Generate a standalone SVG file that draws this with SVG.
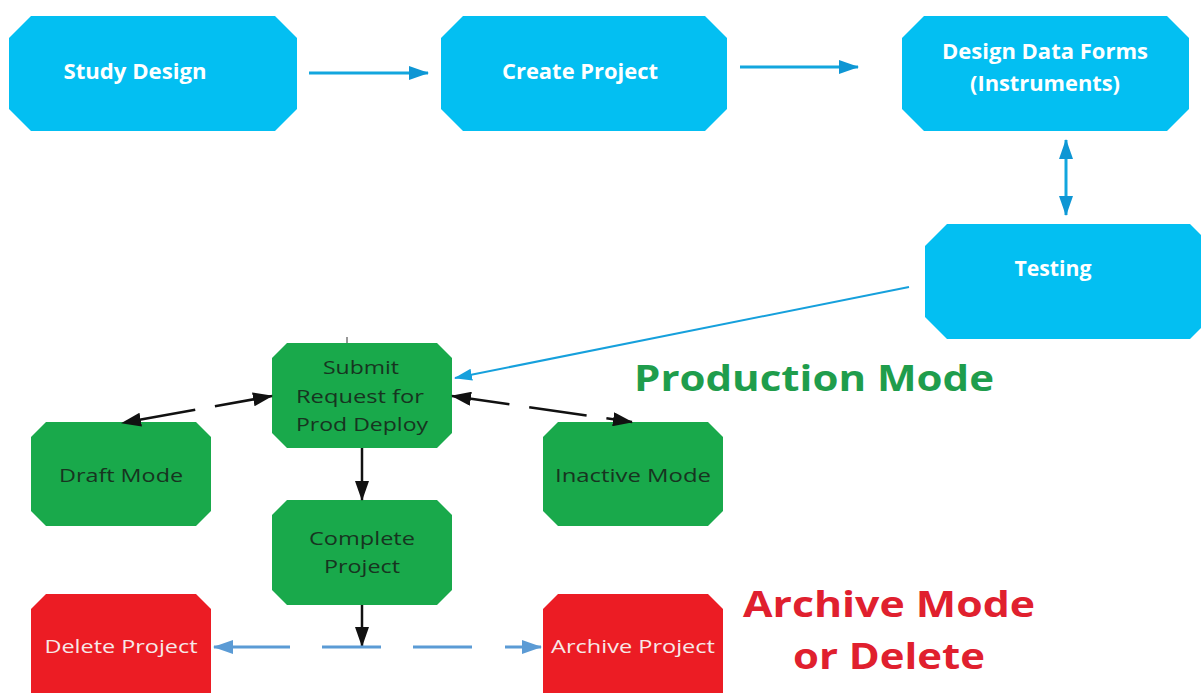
<svg xmlns="http://www.w3.org/2000/svg" width="1201" height="693" viewBox="0 0 1201 693">
  <style>
    .blue { fill: #03bff2; }
    .green { fill: #19a94b; }
    .red { fill: #ec1c24; }
    .tb { font-family: "Open Sans", "Liberation Sans", sans-serif; font-weight: 700; font-size: 21px; fill: #ffffff; text-anchor: middle; }
    .tg { font-family: "Open Sans", "Liberation Sans", sans-serif; font-size: 19px; fill: #173420; text-anchor: middle; }
    .tr { font-family: "Open Sans", "Liberation Sans", sans-serif; font-size: 19px; fill: #f7e8e8; text-anchor: middle; }
    .title { font-family: "Open Sans", "Liberation Sans", sans-serif; font-weight: 700; font-size: 36px; text-anchor: middle; }
    .cblue { stroke: #12a6de; stroke-width: 3; fill: none; }
    .cthin { stroke: #16a0dc; stroke-width: 2; fill: none; }
    .cblack { stroke: #111111; stroke-width: 2.5; fill: none; }
    .cdash { stroke: #5b9bd5; stroke-width: 3; fill: none; }
  </style>
  <defs>
    <marker id="ahBlue" markerUnits="userSpaceOnUse" markerWidth="20" markerHeight="14" refX="19" refY="7" orient="auto-start-reverse">
      <path d="M0,0 L20,7 L0,14 Z" fill="#0e96d4"/>
    </marker>
    <marker id="ahThin" markerUnits="userSpaceOnUse" markerWidth="18" markerHeight="12" refX="17" refY="6" orient="auto-start-reverse">
      <path d="M0,0 L18,6 L0,12 Z" fill="#16a0dc"/>
    </marker>
    <marker id="ahBlack" markerUnits="userSpaceOnUse" markerWidth="20" markerHeight="14" refX="19" refY="7" orient="auto-start-reverse">
      <path d="M0,0 L20,7 L0,14 Z" fill="#111111"/>
    </marker>
    <marker id="ahDash" markerUnits="userSpaceOnUse" markerWidth="20" markerHeight="14" refX="19" refY="7" orient="auto-start-reverse">
      <path d="M0,0 L20,7 L0,14 Z" fill="#5b9bd5"/>
    </marker>
  </defs>

  <rect width="1201" height="693" fill="#ffffff"/>

  <!-- setup steps -->
  <g id="study-design">
    <polygon class="blue" points="31,16 275,16 297,38 297,109 275,131 31,131 9,109 9,38"/>
    <text class="tb" x="135" y="79" textLength="143" lengthAdjust="spacingAndGlyphs">Study Design</text>
  </g>
  <g id="create-project">
    <polygon class="blue" points="463,16 705,16 727,38 727,109 705,131 463,131 441,109 441,38"/>
    <text class="tb" x="580" y="79" textLength="156" lengthAdjust="spacingAndGlyphs">Create Project</text>
  </g>
  <g id="design-data-forms">
    <polygon class="blue" points="924,16 1167,16 1189,38 1189,109 1167,131 924,131 902,109 902,38"/>
    <text class="tb" x="1045" y="59" textLength="206" lengthAdjust="spacingAndGlyphs">Design Data Forms</text>
    <text class="tb" x="1045" y="91" textLength="150" lengthAdjust="spacingAndGlyphs">(Instruments)</text>
  </g>
  <g id="testing">
    <polygon class="blue" points="947,224 1190,224 1212,246 1212,317 1190,339 947,339 925,317 925,246"/>
    <text class="tb" x="1053" y="276" textLength="77" lengthAdjust="spacingAndGlyphs">Testing</text>
  </g>

  <!-- production steps -->
  <g id="submit-request">
    <polygon class="green" points="287,343 437,343 452,358 452,433 437,448 287,448 272,433 272,358"/>
    <text class="tg" x="361" y="374" textLength="76" lengthAdjust="spacingAndGlyphs">Submit</text>
    <text class="tg" x="360" y="403" textLength="128" lengthAdjust="spacingAndGlyphs">Request for</text>
    <text class="tg" x="362" y="431" textLength="132" lengthAdjust="spacingAndGlyphs">Prod Deploy</text>
  </g>
  <g id="draft-mode">
    <polygon class="green" points="46,422 196,422 211,437 211,511 196,526 46,526 31,511 31,437"/>
    <text class="tg" x="121" y="482" textLength="124" lengthAdjust="spacingAndGlyphs">Draft Mode</text>
  </g>
  <g id="inactive-mode">
    <polygon class="green" points="558,422 708,422 723,437 723,511 708,526 558,526 543,511 543,437"/>
    <text class="tg" x="633" y="482" textLength="156" lengthAdjust="spacingAndGlyphs">Inactive Mode</text>
  </g>
  <g id="complete-project">
    <polygon class="green" points="287,500 437,500 452,515 452,590 437,605 287,605 272,590 272,515"/>
    <text class="tg" x="362" y="545" textLength="106" lengthAdjust="spacingAndGlyphs">Complete</text>
    <text class="tg" x="362" y="573" textLength="76" lengthAdjust="spacingAndGlyphs">Project</text>
  </g>
  <g id="production-mode-label">
    <text class="title" x="814" y="391" fill="#1f9d4c" textLength="360" lengthAdjust="spacingAndGlyphs">Production Mode</text>
  </g>

  <!-- end-of-life steps -->
  <g id="delete-project">
    <polygon class="red" points="46,594 196,594 211,609 211,693 31,693 31,609"/>
    <text class="tr" x="121" y="653" textLength="153" lengthAdjust="spacingAndGlyphs">Delete Project</text>
  </g>
  <g id="archive-project">
    <polygon class="red" points="558,594 708,594 723,609 723,693 543,693 543,609"/>
    <text class="tr" x="633" y="653" textLength="164" lengthAdjust="spacingAndGlyphs">Archive Project</text>
  </g>
  <g id="archive-mode-label">
    <text class="title" x="889" y="617" fill="#e0202e" textLength="292" lengthAdjust="spacingAndGlyphs">Archive Mode</text>
    <text class="title" x="889" y="669" fill="#e0202e" textLength="192" lengthAdjust="spacingAndGlyphs">or Delete</text>
  </g>

  <!-- connectors -->
  <g id="connectors">
    <line class="cblue" x1="309" y1="73" x2="428" y2="73" marker-end="url(#ahBlue)"/>
    <line class="cblue" x1="740" y1="67" x2="858" y2="67" marker-end="url(#ahBlue)"/>
    <line class="cblue" x1="1066" y1="140" x2="1066" y2="215" marker-start="url(#ahBlue)" marker-end="url(#ahBlue)"/>
    <line class="cthin" x1="909" y1="287" x2="455" y2="378" marker-end="url(#ahThin)"/>
    <line stroke="#333333" stroke-width="1" x1="347" y1="337" x2="347" y2="343"/>
    <line class="cblack" x1="272" y1="396" x2="122" y2="423" stroke-dasharray="58 20" marker-start="url(#ahBlack)" marker-end="url(#ahBlack)"/>
    <line class="cblack" x1="452" y1="396" x2="632" y2="422" stroke-dasharray="58 20" marker-start="url(#ahBlack)" marker-end="url(#ahBlack)"/>
    <line class="cblack" x1="362" y1="448" x2="362" y2="500" marker-end="url(#ahBlack)"/>
    <line class="cblack" x1="362" y1="605" x2="362" y2="646" marker-end="url(#ahBlack)"/>
    <line class="cdash" x1="214" y1="647" x2="541" y2="647" stroke-dasharray="76 32 59 32 59 33 40" marker-start="url(#ahDash)" marker-end="url(#ahDash)"/>
  </g>
</svg>
